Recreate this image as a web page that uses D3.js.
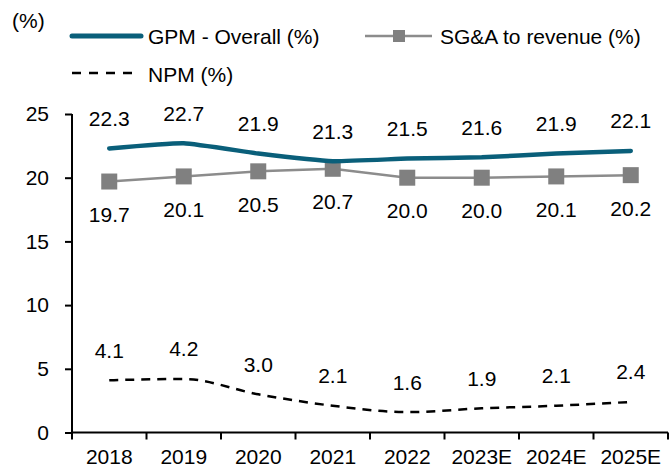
<!DOCTYPE html>
<html>
<head>
<meta charset="utf-8">
<script src="https://cdn.jsdelivr.net/npm/d3@7"></script>
<style>
  body { margin: 0; background: #fff; }
  text { font-family: "Liberation Sans", Arial, sans-serif; fill: #000; }
</style>
</head>
<body>
<div id="chart"></div>
<script>
// chart data
const years = ["2018", "2019", "2020", "2021", "2022", "2023E", "2024E", "2025E"];
const gpm = [22.3, 22.7, 21.9, 21.3, 21.5, 21.6, 21.9, 22.1];
const sga = [19.7, 20.1, 20.5, 20.7, 20.0, 20.0, 20.1, 20.2];
const npm = [4.1, 4.2, 3.0, 2.1, 1.6, 1.9, 2.1, 2.4];
const yTicks = [0, 5, 10, 15, 20, 25];

const width = 670, height = 471;
const fs = 21;

const svg = d3.select("#chart").append("svg")
    .attr("width", width)
    .attr("height", height);

const x = d3.scaleBand().domain(years).range([72, 668]);
const y = d3.scaleLinear().domain([0, 25]).range([432.5, 114]);
const cx = d => x(d) + x.bandwidth() / 2;

// axes
const yAxis = svg.append("g")
    .attr("transform", "translate(72,0)")
    .call(d3.axisLeft(y).tickValues(yTicks).tickSize(7).tickPadding(16));
const xAxis = svg.append("g")
    .attr("transform", `translate(0,${y(0)})`)
    .call(d3.axisBottom(x).tickSize(0).tickPadding(17));

[yAxis, xAxis].forEach(g => {
    g.select(".domain").attr("stroke", "#000").attr("stroke-width", 2);
    g.selectAll(".tick line").attr("stroke", "#000").attr("stroke-width", 2);
    g.selectAll(".tick text").style("font-size", fs + "px").attr("fill", "#000");
});
yAxis.select(".domain").attr("d", `M0,${y(25)}V${y(0)}`);
xAxis.select(".domain").attr("d", `M72,0H668`);

// category boundary ticks
const bounds = years.map(d => x(d)).concat([x.range()[1]]);
svg.append("g").selectAll("line")
    .data(bounds)
    .join("line")
    .attr("x1", d => d).attr("x2", d => d)
    .attr("y1", y(0)).attr("y2", y(0) + 7)
    .attr("stroke", "#000").attr("stroke-width", 2);

// lines
const lineGen = curve => d3.line()
    .x((d, i) => cx(years[i]))
    .y(d => y(d))
    .curve(curve);

svg.append("path")
    .datum(sga)
    .attr("d", lineGen(d3.curveLinear))
    .attr("fill", "none")
    .attr("stroke", "#8c8c8c")
    .attr("stroke-width", 2.5);

svg.append("g").selectAll("rect")
    .data(sga)
    .join("rect")
    .attr("x", (d, i) => cx(years[i]) - 8)
    .attr("y", d => y(d) - 8)
    .attr("width", 16).attr("height", 16)
    .attr("fill", "#808080");

svg.append("path")
    .datum(gpm)
    .attr("d", lineGen(d3.curveCardinal.tension(0.6)))
    .attr("fill", "none")
    .attr("stroke", "#0a5f7a")
    .attr("stroke-width", 4.5)
    .attr("stroke-linecap", "round");

svg.append("path")
    .datum(npm)
    .attr("d", lineGen(d3.curveMonotoneX))
    .attr("fill", "none")
    .attr("stroke", "#000")
    .attr("stroke-width", 2.5)
    .attr("stroke-dasharray", "9,7");

// data labels
const labels = (data, dy) => svg.append("g").selectAll("text")
    .data(data)
    .join("text")
    .attr("x", (d, i) => cx(years[i]))
    .attr("y", d => y(d) + dy)
    .attr("text-anchor", "middle")
    .attr("dominant-baseline", "central")
    .style("font-size", fs + "px")
    .text(d => d.toFixed(1));

labels(gpm, -30);
labels(sga, 33);
labels(npm, -30);

// unit label
svg.append("text")
    .attr("x", 12).attr("y", 20)
    .attr("dominant-baseline", "central")
    .style("font-size", fs + "px")
    .text("(%)");

// legend
const lg = svg.append("g");
lg.append("line")
    .attr("x1", 72).attr("x2", 141).attr("y1", 36).attr("y2", 36)
    .attr("stroke", "#0a5f7a").attr("stroke-width", 5).attr("stroke-linecap", "round");
lg.append("text").attr("x", 148).attr("y", 36).attr("dominant-baseline", "central")
    .style("font-size", fs + "px").text("GPM - Overall (%)");

lg.append("line")
    .attr("x1", 365).attr("x2", 432).attr("y1", 36).attr("y2", 36)
    .attr("stroke", "#8c8c8c").attr("stroke-width", 2.5);
lg.append("rect")
    .attr("x", 393).attr("y", 30).attr("width", 12).attr("height", 12)
    .attr("fill", "#808080");
lg.append("text").attr("x", 440).attr("y", 36).attr("dominant-baseline", "central")
    .style("font-size", fs + "px").text("SG&A to revenue (%)");

lg.append("line")
    .attr("x1", 72).attr("x2", 132).attr("y1", 73).attr("y2", 73)
    .attr("stroke", "#000").attr("stroke-width", 2.5).attr("stroke-dasharray", "9,8");
lg.append("text").attr("x", 148).attr("y", 74).attr("dominant-baseline", "central")
    .style("font-size", fs + "px").text("NPM (%)");
</script>
</body>
</html>
